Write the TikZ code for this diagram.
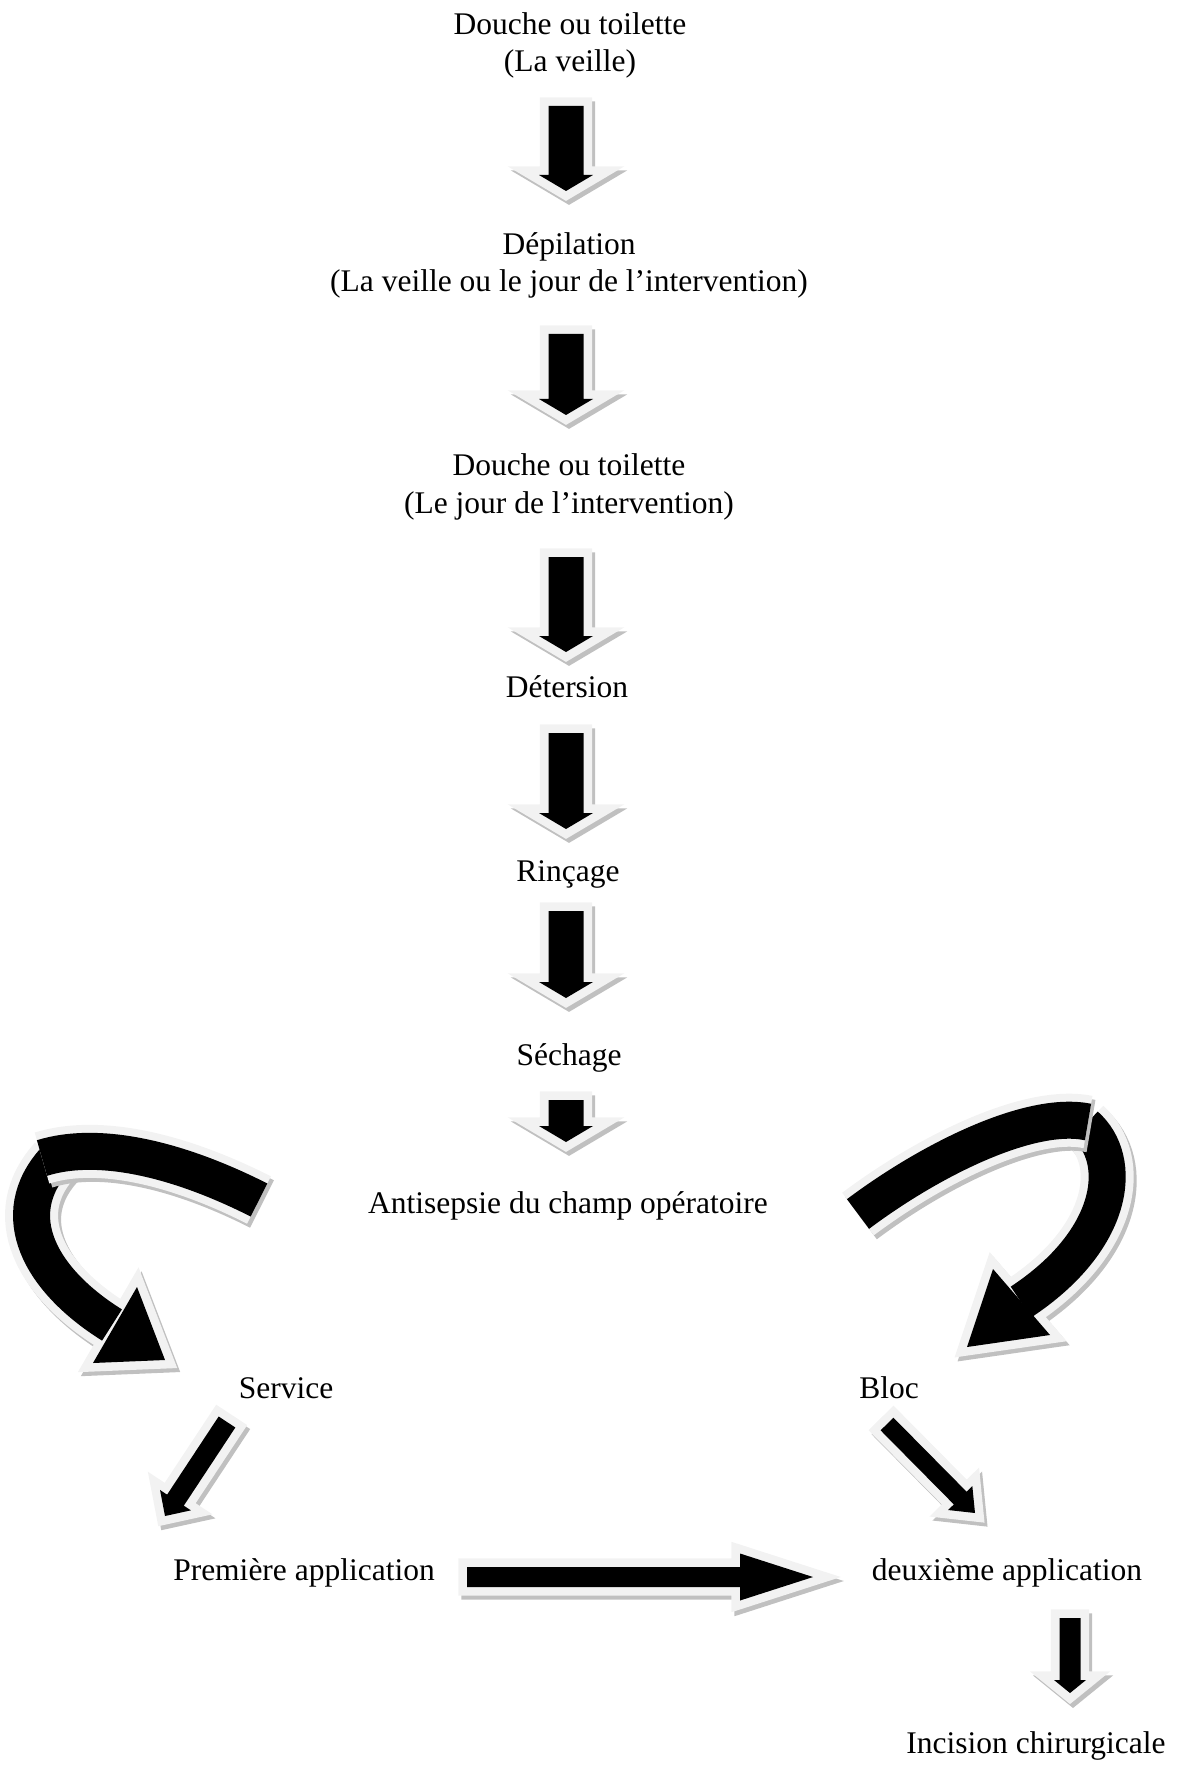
\documentclass[tikz,border=0pt]{standalone}
\usepackage{fontspec}
\setmainfont{Liberation Serif}
\usetikzlibrary{calc}

\definecolor{contourgris}{HTML}{F2F2F2}
\definecolor{ombregris}{HTML}{C0C0C0}

\newcommand{\pxu}{0.381pt}

\tikzset{
  etape/.style={anchor=base, align=center, inner sep=0pt, font=\fontsize{12pt}{14.1pt}\selectfont},
  ombre/.style={draw=ombregris, fill=ombregris, line width=6.5pt, transform canvas={shift={(3,4)}}},
  contour/.style={draw=contourgris, line width=6.5pt},
  noir/.style={fill=black},
  bandeombre/.style={draw=ombregris, line width=20.2pt, transform canvas={shift={(3,4)}}},
  bandecontour/.style={draw=contourgris, line width=20.2pt},
  bandenoir/.style={draw=black, line width=14.1pt}
}

% #1 debut, #2 pointe, #3 demi-tige, #4 demi-tete, #5 longueur tete
\newcommand{\fleche}[5]{%
  \coordinate (fb) at ($(#2)!#5*\pxu!(#1)$);
  \def\contourfleche{($(#1)!#3*\pxu!90:(#2)$) -- ($(fb)!#3*\pxu!90:(#2)$) -- ($(fb)!#4*\pxu!90:(#2)$) -- (#2) -- ($(fb)!#4*\pxu!-90:(#2)$) -- ($(fb)!#3*\pxu!-90:(#2)$) -- ($(#1)!#3*\pxu!-90:(#2)$) -- cycle}%
  \path[ombre] \contourfleche;
  \path[contour] \contourfleche;
  \path[noir] \contourfleche;
}
\newcommand{\courbe}[2]{%
  \path[bandeombre] #1; \path[ombre] #2;
  \path[bandecontour] #1; \path[contour] #2;
  \path[bandenoir] #1; \path[noir] #2;
}
\newcommand{\bande}[1]{%
  \path[bandeombre] #1; \path[bandecontour] #1; \path[bandenoir] #1;
}

\begin{document}
\begin{tikzpicture}[x=0.381pt, y=-0.381pt]
  \useasboundingbox (0,0) rectangle (1179,1771);

  \node[etape] (douche1) at (570,72) {Douche ou toilette\\(La veille)};
  \node[etape] (depilation) at (569,292) {Dépilation\\(La veille ou le jour de l’intervention)};
  \node[etape] (douche2) at (569,513) {Douche ou toilette\\(Le jour de l’intervention)};
  \node[etape] (detersion) at (567,697) {Détersion};
  \node[etape] (rincage) at (568,881) {Rinçage};
  \node[etape] (sechage) at (569,1065) {Séchage};
  \node[etape] (antisepsie) at (568,1213) {Antisepsie du champ opératoire};
  \node[etape] (service) at (286,1398) {Service};
  \node[etape] (bloc) at (889,1398) {Bloc};
  \node[etape] (premiere) at (304,1580) {Première application};
  \node[etape] (deuxieme) at (1007,1580) {deuxième application};
  \node[etape] (incision) at (1036,1753) {Incision chirurgicale};

  \coordinate (f1d) at (566,106);  \coordinate (f1p) at (566,191);
  \coordinate (f2d) at (566,334);  \coordinate (f2p) at (566,415);
  \coordinate (f3d) at (566,557);  \coordinate (f3p) at (566,652);
  \coordinate (f4d) at (566,733);  \coordinate (f4p) at (566,829);
  \coordinate (f5d) at (566,911);  \coordinate (f5p) at (566,998);
  \coordinate (f6d) at (566,1100); \coordinate (f6p) at (566,1142);
  \fleche{f1d}{f1p}{17.5}{27}{16}
  \fleche{f2d}{f2p}{17.5}{27}{16}
  \fleche{f3d}{f3p}{17.5}{27}{16}
  \fleche{f4d}{f4p}{17.5}{27}{16}
  \fleche{f5d}{f5p}{17.5}{27}{16}
  \fleche{f6d}{f6p}{17.5}{27}{16}

  \courbe{(55,1160) .. controls (5,1215) and (40,1280) .. (112,1325)}{(137,1287) -- (165,1360) -- (93,1363) -- cycle}
  \bande{(259,1200) .. controls (180,1160) and (100,1140) .. (42,1158)}
  \courbe{(1085,1125) .. controls (1125,1160) and (1115,1240) .. (1021,1302)}{(993,1269) -- (1050,1335) -- (967,1347) -- cycle}
  \bande{(858,1214) .. controls (930,1160) and (1030,1110) .. (1088,1122)}

  \coordinate (sd) at (227,1422);  \coordinate (sp) at (165,1516);
  \coordinate (bd) at (887,1424);  \coordinate (bp) at (975,1513);
  \coordinate (pd) at (467,1577);  \coordinate (pp) at (813,1577);
  \coordinate (id) at (1070,1618); \coordinate (ip) at (1070,1693);
  \fleche{sd}{sp}{10}{18.5}{19}
  \fleche{bd}{bp}{9}{17}{21}
  \fleche{pd}{pp}{10}{23.5}{73}
  \fleche{id}{ip}{10.5}{16}{13}
\end{tikzpicture}
\end{document}
